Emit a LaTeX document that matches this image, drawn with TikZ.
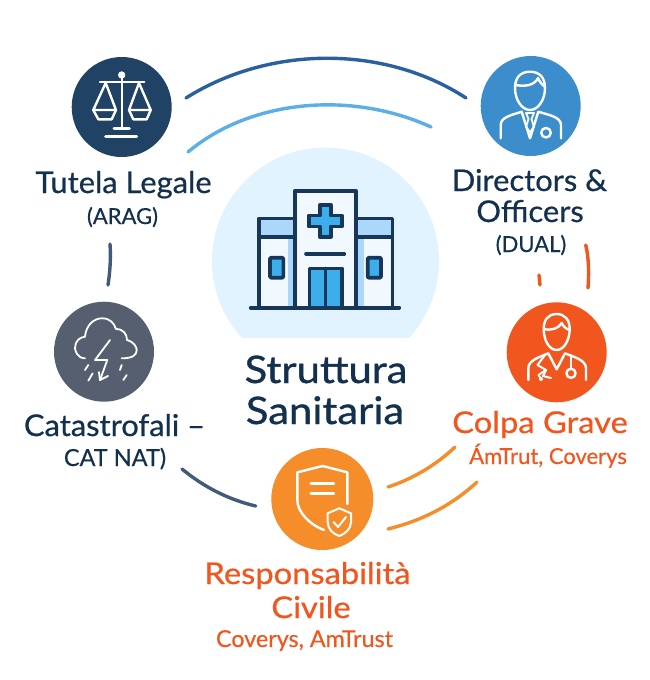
\documentclass[tikz,border=0pt]{standalone}
\usepackage{fontspec}
\setmainfont{Lato}
\newfontfamily\labelfont[FakeBold=0.6,FakeStretch=1.03]{Lato}
\newfontfamily\redfont[FakeBold=0.6,FakeStretch=1.09]{Lato}
\newfontfamily\subfont[FakeBold=0.45]{Lato}
\newfontfamily\headfont[FakeBold=0.9,FakeStretch=1.1]{Lato}
\definecolor{navy}{HTML}{14304F}
\definecolor{hosp}{HTML}{17375A}
\definecolor{halo}{HTML}{E1F3FE}
\definecolor{pale}{HTML}{F1F9FF}
\definecolor{band}{HTML}{ABD7FB}
\definecolor{sky}{HTML}{3BAEEB}
\definecolor{coral}{HTML}{F1561F}
\definecolor{amber}{HTML}{F68D2B}
\definecolor{legal}{HTML}{1F4265}
\definecolor{direct}{HTML}{3C8DCC}
\definecolor{storm}{HTML}{555F70}
\definecolor{arcblue}{HTML}{2A609F}
\definecolor{arclight}{HTML}{5CAEE8}
\definecolor{arcslate}{HTML}{405C7A}
\tikzset{
    disc/.style={circle, minimum size=100pt, inner sep=0},
    iconline/.style={draw=white, line width=2.4pt, line cap=round, line join=round},
    hospline/.style={draw=hosp, line width=3.6pt, line cap=round, line join=round},
    arcline/.style={line width=3.4pt, line cap=round},
    bigtext/.style={anchor=base, text=navy, font=\labelfont\fontsize{30}{30}\selectfont},
    subtext/.style={anchor=base, text=navy, font=\subfont\fontsize{22}{22}\selectfont},
    headtext/.style={anchor=base, text=navy, font=\headfont\fontsize{38}{38}\selectfont},
    bigred/.style={anchor=base, text=coral, font=\redfont\fontsize{30}{30}\selectfont},
    subred/.style={anchor=base, text=coral, font=\subfont\fontsize{22}{22}\selectfont},
}
\begin{document}
\begin{tikzpicture}[x=1pt, y=-1pt]
\useasboundingbox (0,0) rectangle (650,680);
\fill[white] (0,0) rectangle (650,680);

% Halo
\begin{scope}
\clip (200,130) rectangle (450,337.7);
\fill[halo] (325.5,261) circle (113.5);
\end{scope}

% Hospital
\fill[pale] (259,218.3) rectangle (392.3,306.7);
\fill[pale] (295,190.7) rectangle (356,306.7);
\fill[band] (259,218.3) rectangle (295,236.7);
\fill[band] (356,218.3) rectangle (392.3,236.7);
\fill[band] (288,236.7) rectangle (295,306.7);
\fill[band] (356,236.7) rectangle (363.5,306.7);
\fill[sky] (309.3,268.3) rectangle (341.7,306.7);
\draw[hospline] (259,306.7) -- (259,218.3) -- (295,218.3);
\draw[hospline] (392.3,306.7) -- (392.3,218.3) -- (356,218.3);
\draw[hospline] (259,236.7) -- (295,236.7);
\draw[hospline] (356,236.7) -- (392.3,236.7);
\draw[hospline] (295,306.7) -- (295,190.7) -- (356,190.7) -- (356,306.7);
\draw[hospline] (250.7,307.7) -- (399.3,307.7);
\draw[hospline, fill=sky] (319.8,205) -- (330.8,205) -- (330.8,215.5) -- (341.8,215.5) -- (341.8,226.5) -- (330.8,226.5) -- (330.8,237) -- (319.8,237) -- (319.8,226.5) -- (308.8,226.5) -- (308.8,215.5) -- (319.8,215.5) -- cycle;
\draw[hospline] (306,254) -- (344.3,254);
\draw[hospline] (309.3,306.7) -- (309.3,268.3) -- (341.7,268.3) -- (341.7,306.7);
\draw[hospline] (325.5,268.3) -- (325.5,306.7);
\draw[hospline, fill=sky, rounded corners=1pt] (270,257.7) rectangle (283.3,277.7);
\draw[hospline, fill=sky, rounded corners=1pt] (367.7,257.7) rectangle (381,277.7);

% Discs
\node[disc, fill=legal] (tutela) at (121.7,107) {};
\node[disc, fill=direct] (directors) at (530.7,106) {};
\node[disc, fill=storm] (catnat) at (104,351.7) {};
\node[disc, fill=coral] (colpa) at (556.7,352.3) {};
\node[disc, fill=amber, minimum size=102pt] (civile) at (322.3,499) {};

% Scales
\draw[iconline] (121.7,78) -- (121.7,128.3);
\draw[iconline, fill=white] (121.7,75) circle (2.4);
\draw[iconline] (100,82) -- (144.3,82);
\draw[iconline] (93.3,110) -- (105.7,83) -- (116,110) -- cycle;
\draw[iconline] (93.3,110) -- (98.3,119.3) -- (111.7,119.3) -- (116,110);
\draw[iconline] (129,110) -- (139,83) -- (150.7,110) -- cycle;
\draw[iconline] (129,110) -- (133.3,119.3) -- (146.7,119.3) -- (150.7,110);
\draw[iconline, line width=3pt] (114,128.3) -- (129.3,128.3);
\draw[iconline, line width=3pt] (105.7,136) -- (136.7,136);

% Director
\draw[iconline] (530,71.7) .. controls (520,71.7) and (515,78) .. (515,88) .. controls (515,100) and (522,110) .. (530,110) .. controls (538,110) and (545,100) .. (545,88) .. controls (545,78) and (540,71.7) .. (530,71.7);
\draw[iconline] (516,85) .. controls (525,87) and (535,85) .. (538,78) .. controls (540,83) and (543,85) .. (545,87);
\draw[iconline] (500.7,138.3) -- (500.7,125) .. controls (500.7,117) and (512,115) .. (521.7,111.7) -- (530,138.3) -- (538.3,111.7) .. controls (549,115) and (561,117) .. (561,125) -- (561,138.3);
\draw[iconline, line width=1.8pt] (526,113) -- (534,113) -- (531.5,119) -- (534,127) -- (530,132) -- (526,127) -- (528.5,119) -- cycle;
\draw[iconline] (546,132.7) circle (4.8);

% Storm
\draw[iconline, line width=1.8pt] (85,358.3) .. controls (77,358.3) and (75,350) .. (75,348) .. controls (75,341) and (80,337) .. (85,336.7) .. controls (86,325) and (94,318.3) .. (102,318.3) .. controls (110,318.3) and (114,323) .. (116,329) .. controls (124,329) and (127,335) .. (127,340) .. controls (134,342) and (136.7,347) .. (136.7,350) .. controls (136.7,355) and (133,358.3) .. (121.7,358.3);
\draw[iconline, line width=1.8pt] (110,340) -- (95,360) -- (107.3,360) -- (100,380);
\draw[iconline, line width=1.8pt] (100,380) -- (99,372);
\draw[iconline, line width=1.8pt] (100,380) -- (108,376);
\draw[iconline, line width=1.8pt] (88.3,365) -- (85,370);
\draw[iconline, line width=1.8pt] (92.7,373.3) -- (88.3,380.7);
\draw[iconline, line width=1.8pt] (121.7,365) -- (120,370);
\draw[iconline, line width=1.8pt] (126.7,375) -- (123.3,380);

% Doctor
\draw[iconline] (556.7,314) .. controls (548,314) and (543.7,320) .. (543.7,329) .. controls (543.7,340) and (549,350) .. (556.7,350) .. controls (564,350) and (569.7,340) .. (569.7,329) .. controls (569.7,320) and (565,314) .. (556.7,314);
\draw[iconline] (544,329) .. controls (552,331) and (559,328) .. (561.7,323) .. controls (563,326) and (566,329) .. (569.5,330);
\draw[iconline] (528.3,380) -- (528.3,368.3) .. controls (528.3,360) and (540,357) .. (548.3,353.3) -- (556.7,369.3) -- (565,353.3) .. controls (574,357) and (586,360) .. (586,368.3) -- (586,380);
\draw[iconline] (571,355.5) -- (571,368.5);
\draw[iconline] (571,373.3) circle (4.6);
\draw[iconline, line width=2pt] (545,355) -- (537.5,365) -- (546,370) -- (538.5,375) -- (541,379);
\draw[iconline, line width=2pt] (546,370) -- (543,376) -- (551,378);
\fill[white] (541,379) circle (2);

% Shield
\draw[iconline] (347.3,504) -- (347.3,472.3) -- (322.7,466) -- (297.3,472.3) -- (297.3,500) .. controls (297.3,512) and (310,525) .. (324,530);
\draw[iconline] (310.7,483.3) -- (334,483.3);
\draw[iconline] (310.7,493.3) -- (334,493.3);
\draw[draw=amber, fill=amber, line width=5pt, line join=round] (339.3,508.3) -- (351,513.3) -- (351,522) .. controls (351,529) and (345,534) .. (339.3,536) .. controls (333,534) and (327.7,529) .. (327.7,522) -- (327.7,513.3) -- cycle;
\draw[iconline, line width=2pt] (339.3,508.3) -- (351,513.3) -- (351,522) .. controls (351,529) and (345,534) .. (339.3,536) .. controls (333,534) and (327.7,529) .. (327.7,522) -- (327.7,513.3) -- cycle;
\draw[iconline, line width=2pt] (333.5,522) -- (338,527) -- (346,517);

% Arcs
\coordinate (topA) at (186,98);
\coordinate (topB) at (466,98);
\coordinate (midA) at (188,152);
\coordinate (midB) at (431,127);
\coordinate (leftA) at (110,244);
\coordinate (leftB) at (108,285);
\coordinate (rightA) at (585.7,245);
\coordinate (rightB) at (588,288);
\coordinate (dashA) at (539,275);
\coordinate (dashB) at (540,285);
\coordinate (lowA) at (182,469);
\coordinate (lowB) at (255.7,506);
\coordinate (orA) at (388,487);
\coordinate (orB) at (455,447);
\coordinate (orC) at (388,529);
\coordinate (orD) at (477,482);
\draw[arcline, draw=arcblue] (topA) .. controls (270,45) and (385,45) .. (topB);
\draw[arcline, draw=arclight] (midA) .. controls (250,100) and (350,90) .. (midB);
\draw[arcline, draw=arcslate] (leftA) .. controls (111,258) and (110,272) .. (leftB);
\draw[arcline, draw=coral] (rightA) .. controls (589,258) and (589,274) .. (rightB);
\draw[arcline, draw=coral] (dashA) -- (dashB);
\draw[arcline, draw=arcslate] (lowA) .. controls (205,488) and (230,500) .. (lowB);
\draw[arcline, draw=amber] (orA) .. controls (412,479) and (435,466) .. (orB);
\draw[arcline, draw=amber] (orC) .. controls (420,521) and (450,507) .. (orD);

% Labels
\node[bigtext] (tutelaname) at (123.5,193) {Tutela Legale};
\node[subtext] (tutelasub) at (122.5,224) {(ARAG)};
\node[bigtext] (dirname) at (529.5,191) {Directors \&};
\node[bigtext] (dirname2) at (530,222) {Officers};
\node[subtext] (dirsub) at (531,252) {(DUAL)};
\node[headtext] (structname) at (326,383) {Struttura};
\node[headtext] (structname2) at (325,424) {Sanitaria};
\node[bigtext] (catname) at (114.5,436) {Catastrofali –};
\node[subtext, font=\subfont\fontsize{23.5}{23.5}\selectfont] (catsub) at (115,466) {CAT NAT)};
\node[bigred] (colpaname) at (540,433) {Colpa Grave};
\node[subred] (colpasub) at (548,464) {ÁmTrut, Coverys};
\node[bigred] (civname) at (307.5,584) {Responsabilità};
\node[bigred] (civname2) at (311,618) {Civile};
\node[subred, font=\subfont\fontsize{23.3}{23.3}\selectfont] (civsub) at (304.5,647) {Coverys, AmTrust};
\end{tikzpicture}
\end{document}
